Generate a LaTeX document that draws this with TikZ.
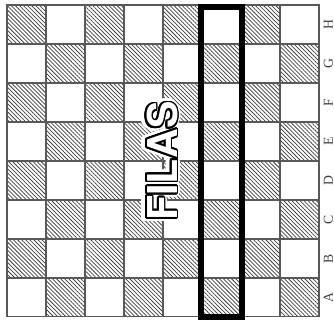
\documentclass[tikz,border=0pt]{standalone}
\usepackage{fontspec}
\setsansfont{TeX Gyre Heros}
\newfontfamily\labelfont{Liberation Serif}
\usepackage[copies]{contour}
\usetikzlibrary{patterns.meta}
\begin{document}
\begin{tikzpicture}[
  hatched/.style={pattern={Lines[angle=-45,distance=2.1pt,line width=0.55pt]}, pattern color=black!75},
  gridline/.style={draw=black!65, line width=0.8pt},
  column/.style={draw=black, line width=4.4pt},
  rowlabel/.style={font=\labelfont\fontsize{10}{10}\selectfont, text=black!75, rotate=90, inner sep=0pt},
  title/.style={font=\sffamily\bfseries\fontsize{30}{30}\selectfont, rotate=90, inner sep=0pt}
]
\useasboundingbox (-0.18,-0.077) rectangle (8.385,8.128);
% board squares
\foreach \i in {0,...,7}
  \foreach \j in {0,...,7} {
    \pgfmathtruncatemacro{\odd}{mod(\i+\j,2)}
    \ifnum\odd=1
      \fill[hatched] (\i,\j) rectangle ++(1,1);
    \fi
  }
\draw[gridline] (0,0) grid (8,8);
\draw[gridline] (0,0) rectangle (8,8);

% marked column
\draw[column] (4.97,0.01) rectangle (6.03,7.96);

% row letters
\foreach \l [count=\n from 0] in {A,B,C,D,E,F,G,H}
  \node[rowlabel] (row\l) at (8.24,\n+0.5) {\l};

% title
\node[title] (halo) at (4,4) {\contourlength{3.2pt}\contour{white}{\textcolor{white}{FILAS}}};
\node[title] (filas) at (4,4) {\contourlength{1.3pt}\contour{black}{\textcolor{white}{FILAS}}};
\end{tikzpicture}
\end{document}
